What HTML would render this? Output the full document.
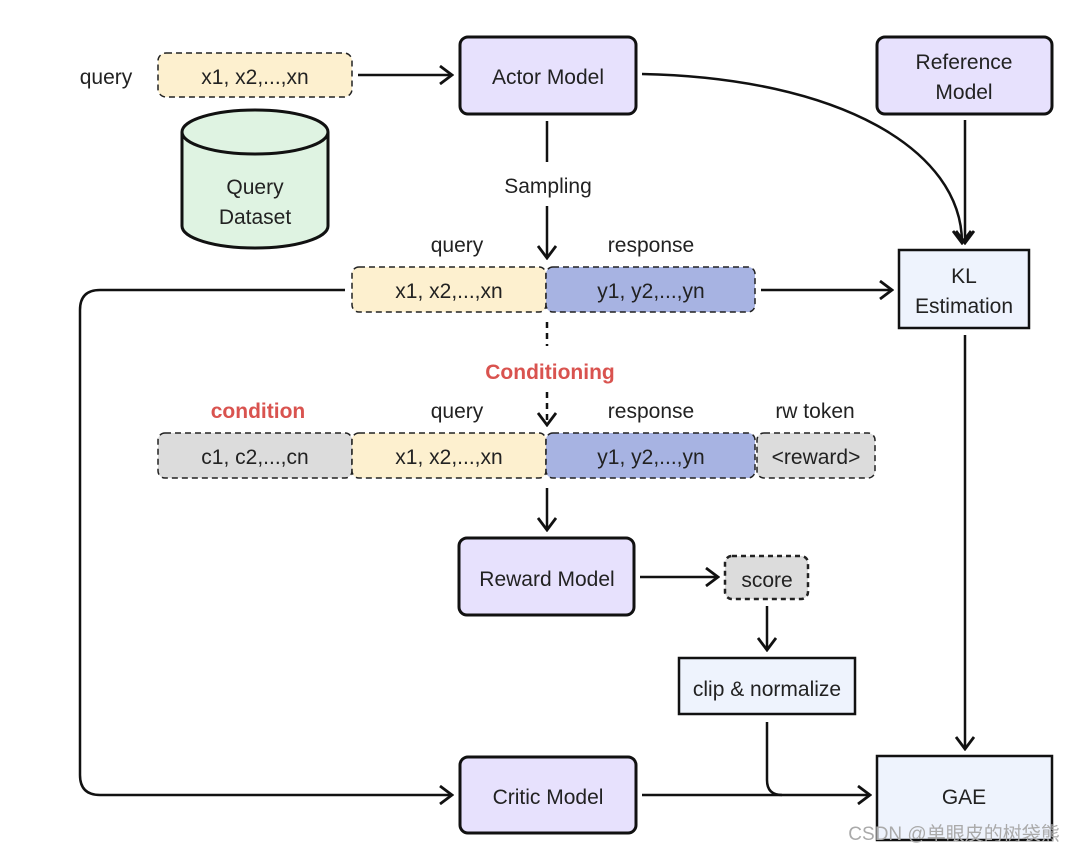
<!DOCTYPE html>
<html><head><meta charset="utf-8"><style>
html,body{margin:0;padding:0;background:#fff;}
svg{display:block;}
text{font-family:"Liberation Sans","Noto Sans CJK SC",sans-serif;font-size:21px;fill:#222;}
</style></head><body>
<svg width="1075" height="853" viewBox="0 0 1075 853" xmlns="http://www.w3.org/2000/svg">
<defs>
<marker id="a" viewBox="0 0 16 20" refX="14" refY="10" markerWidth="16" markerHeight="20" markerUnits="userSpaceOnUse" orient="auto">
<path d="M2 1 L14 10 L2 19" fill="none" stroke="#111" stroke-width="2.8"/>
</marker>
</defs>
<g text-anchor="middle">
<text x="106" y="84">query</text>
<rect x="158" y="53" width="194" height="44" rx="8" fill="#fdf0cf" stroke="#222" stroke-width="1.5" stroke-dasharray="6,4"/>
<text x="255" y="84">x1, x2,...,xn</text>
<line x1="358" y1="75" x2="452" y2="75" stroke="#111" stroke-width="2.5" marker-end="url(#a)"/>
<rect x="460" y="37" width="176" height="77" rx="8" fill="#e7e1fd" stroke="#111" stroke-width="3"/>
<text x="548" y="84">Actor Model</text>
<rect x="877" y="37" width="175" height="77" rx="8" fill="#e7e1fd" stroke="#111" stroke-width="3"/>
<text x="964" y="69">Reference</text>
<text x="964" y="99">Model</text>
<path d="M182 132 L182 226 A73 22 0 0 0 328 226 L328 132" fill="#dff3e2" stroke="#111" stroke-width="3"/>
<ellipse cx="255" cy="132" rx="73" ry="22" fill="#dff3e2" stroke="#111" stroke-width="3"/>
<text x="255" y="194">Query</text>
<text x="255" y="224">Dataset</text>
<line x1="547" y1="121" x2="547" y2="162" stroke="#111" stroke-width="2.5"/>
<text x="548" y="193">Sampling</text>
<line x1="547" y1="206" x2="547" y2="258" stroke="#111" stroke-width="2.5" marker-end="url(#a)"/>
<path d="M642 74 C 840 78, 962 150, 962 243" fill="none" stroke="#111" stroke-width="2.5" marker-end="url(#a)"/>
<line x1="965" y1="120" x2="965" y2="243" stroke="#111" stroke-width="2.5" marker-end="url(#a)"/>
<text x="457" y="252">query</text>
<text x="651" y="252">response</text>
<rect x="352" y="267" width="194" height="45" rx="7" fill="#fdf0cf" stroke="#222" stroke-width="1.5" stroke-dasharray="6,4"/>
<rect x="546" y="267" width="209" height="45" rx="7" fill="#a7b3e2" stroke="#222" stroke-width="1.5" stroke-dasharray="6,4"/>
<text x="449" y="298">x1, x2,...,xn</text>
<text x="651" y="298">y1, y2,...,yn</text>
<line x1="761" y1="290" x2="892" y2="290" stroke="#111" stroke-width="2.5" marker-end="url(#a)"/>
<rect x="899" y="250" width="130" height="78" fill="#eef3fd" stroke="#111" stroke-width="2.5"/>
<text x="964" y="283">KL</text>
<text x="964" y="313">Estimation</text>
<line x1="965" y1="335" x2="965" y2="749" stroke="#111" stroke-width="2.5" marker-end="url(#a)"/>
<path d="M345 290 L100 290 Q80 290 80 310 L80 775 Q80 795 100 795 L452 795" fill="none" stroke="#111" stroke-width="2.5" marker-end="url(#a)"/>
<line x1="547" y1="322" x2="547" y2="346" stroke="#111" stroke-width="2.5" stroke-dasharray="6,5"/>
<text x="550" y="379" font-weight="bold" style="fill:#d9534f">Conditioning</text>
<line x1="547" y1="392" x2="547" y2="425" stroke="#111" stroke-width="2.5" stroke-dasharray="6,5" marker-end="url(#a)"/>
<text x="258" y="418" font-weight="bold" style="fill:#d9534f">condition</text>
<text x="457" y="418">query</text>
<text x="651" y="418">response</text>
<text x="815" y="418">rw token</text>
<rect x="158" y="433" width="194" height="45" rx="7" fill="#dcdcdc" stroke="#222" stroke-width="1.5" stroke-dasharray="6,4"/>
<rect x="352" y="433" width="194" height="45" rx="7" fill="#fdf0cf" stroke="#222" stroke-width="1.5" stroke-dasharray="6,4"/>
<rect x="546" y="433" width="209" height="45" rx="7" fill="#a7b3e2" stroke="#222" stroke-width="1.5" stroke-dasharray="6,4"/>
<rect x="757" y="433" width="118" height="45" rx="7" fill="#dcdcdc" stroke="#222" stroke-width="1.5" stroke-dasharray="6,4"/>
<text x="255" y="464">c1, c2,...,cn</text>
<text x="449" y="464">x1, x2,...,xn</text>
<text x="651" y="464">y1, y2,...,yn</text>
<text x="816" y="464">&lt;reward&gt;</text>
<line x1="547" y1="488" x2="547" y2="530" stroke="#111" stroke-width="2.5" marker-end="url(#a)"/>
<rect x="459" y="538" width="175" height="77" rx="8" fill="#e7e1fd" stroke="#111" stroke-width="3"/>
<text x="547" y="586">Reward Model</text>
<line x1="640" y1="577" x2="718" y2="577" stroke="#111" stroke-width="2.5" marker-end="url(#a)"/>
<rect x="725" y="556" width="83" height="43" rx="7" fill="#dcdcdc" stroke="#222" stroke-width="2.5" stroke-dasharray="5,4"/>
<text x="767" y="587">score</text>
<line x1="767" y1="606" x2="767" y2="650" stroke="#111" stroke-width="2.5" marker-end="url(#a)"/>
<rect x="679" y="658" width="176" height="56" fill="#eef3fd" stroke="#111" stroke-width="2.5"/>
<text x="767" y="696">clip &amp; normalize</text>
<path d="M767 722 L767 780 Q767 795 782 795" fill="none" stroke="#111" stroke-width="2.5"/>
<rect x="460" y="757" width="176" height="76" rx="8" fill="#e7e1fd" stroke="#111" stroke-width="3"/>
<text x="548" y="804">Critic Model</text>
<line x1="642" y1="795" x2="870" y2="795" stroke="#111" stroke-width="2.5" marker-end="url(#a)"/>
<rect x="877" y="756" width="175" height="84" fill="#eef3fd" stroke="#111" stroke-width="2.5"/>
<text x="964" y="804">GAE</text>
<text x="954" y="840" style="fill:#aaa;font-size:19px">CSDN @单眼皮的树袋熊</text>
</g>
</svg>
</body></html>
